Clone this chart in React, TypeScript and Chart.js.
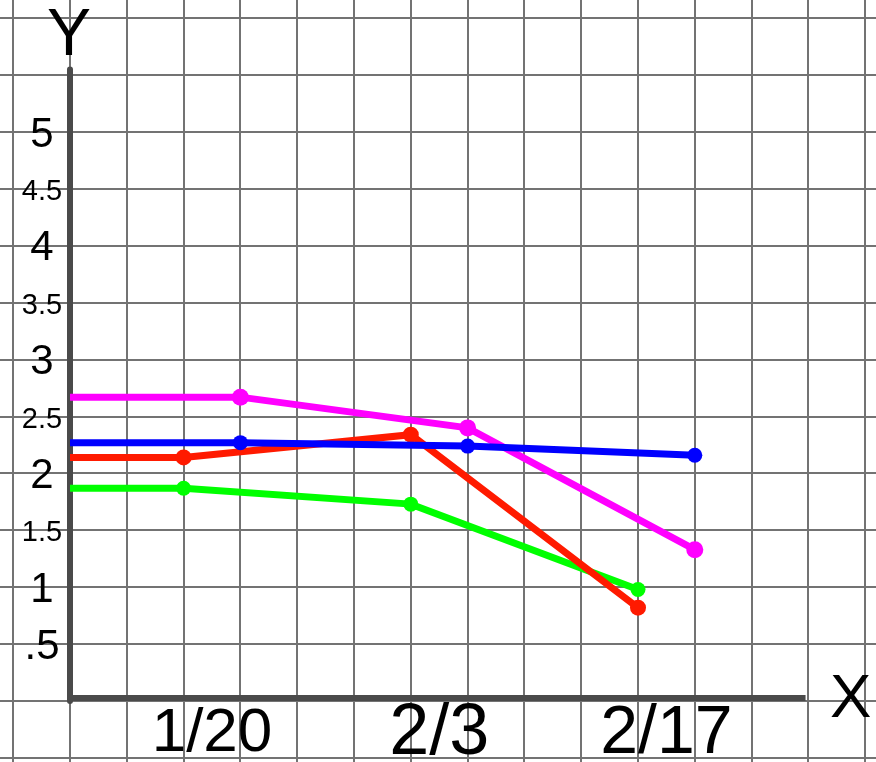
import React, { useEffect, useRef } from "react";
import { Chart, registerables } from "chart.js";

Chart.register(...registerables);

// Categories (dates) and their positions along the grid (one unit = one grid square)
const categories = ["1/20", "2/3", "2/17"];
const categoryPositions = [2.5, 6.5, 10.5];

// Series: x in grid squares from the Y axis, y in chart units
const redX = [0, 2, 6, 10];
const redY = [2.14, 2.14, 2.34, 0.82];
const greenX = [0, 2, 6, 10];
const greenY = [1.87, 1.87, 1.73, 0.98];
const magentaX = [0, 3, 7, 11];
const magentaY = [2.67, 2.67, 2.4, 1.33];
const blueX = [0, 3, 7, 11];
const blueY = [2.27, 2.27, 2.24, 2.16];

// Y tick labels
const yTickValues = [5, 4.5, 4, 3.5, 3, 2.5, 2, 1.5, 1, 0.5];
const yTickLabels = ["5", "4.5", "4", "3.5", "3", "2.5", "2", "1.5", "1", ".5"];

// Grid lines of the paper
const xGridValues = [-1, 0, 1, 2, 3, 4, 5, 6, 7, 8, 9, 10, 11, 12, 13, 14];
const yGridValues = [-0.5, 0, 0.5, 1, 1.5, 2, 2.5, 3, 3.5, 4, 4.5, 5, 5.5, 6];

// Axis extents
const yAxisTop = 5.55;
const xAxisRight = 12.95;

const xLabelFontSizes = [62, 72, 68];

const W = 876;
const H = 762;
const CELL_X = 56.8;
const CELL_Y = 56.9;
const ORIGIN_X = 70;
const ORIGIN_Y = 701;

const FONT = '"Liberation Sans", Arial, Helvetica, sans-serif';

function toPoints(xs: number[], ys: number[]) {
  return xs.map((x, i) => ({ x, y: ys[i] }));
}

function radii(n: number, r: number) {
  return Array.from({ length: n }, (_, i) => (i === 0 ? 0 : r));
}

const paperPlugin = {
  id: "paper",
  beforeDatasetsDraw(chart: any) {
    const { ctx, scales, width, height } = chart;
    const xs = scales.x;
    const ys = scales.y;
    ctx.save();
    // grid paper
    ctx.strokeStyle = "#737373";
    ctx.lineWidth = 2;
    xGridValues.forEach((v) => {
      const px = Math.round(xs.getPixelForValue(v));
      ctx.beginPath();
      ctx.moveTo(px, 0);
      ctx.lineTo(px, height);
      ctx.stroke();
    });
    yGridValues.forEach((v) => {
      const py = Math.round(ys.getPixelForValue(v));
      ctx.beginPath();
      ctx.moveTo(0, py);
      ctx.lineTo(width, py);
      ctx.stroke();
    });
    // axes
    const x0 = xs.getPixelForValue(0);
    const y0 = ys.getPixelForValue(0);
    ctx.strokeStyle = "#4a4a4a";
    ctx.lineWidth = 6;
    ctx.lineCap = "round";
    ctx.beginPath();
    ctx.moveTo(x0, ys.getPixelForValue(yAxisTop));
    ctx.lineTo(x0, y0);
    ctx.stroke();
    ctx.lineCap = "butt";
    ctx.beginPath();
    ctx.moveTo(x0 - 3, y0 - 3);
    ctx.lineTo(xs.getPixelForValue(xAxisRight), y0 - 3);
    ctx.stroke();
    ctx.restore();
  },
  afterDraw(chart: any) {
    const { ctx, scales } = chart;
    const xs = scales.x;
    const ys = scales.y;
    const x0 = xs.getPixelForValue(0);
    const y0 = ys.getPixelForValue(0);
    ctx.save();
    ctx.fillStyle = "#000";
    ctx.textAlign = "center";
    ctx.textBaseline = "middle";
    yTickValues.forEach((v, i) => {
      const label = yTickLabels[i];
      const size = label.length >= 3 ? 29 : 42;
      ctx.font = `${size}px ${FONT}`;
      ctx.fillText(label, x0 - 28, ys.getPixelForValue(v) + 3);
    });
    categories.forEach((c, i) => {
      ctx.font = `${xLabelFontSizes[i]}px ${FONT}`;
      ctx.fillText(c, xs.getPixelForValue(categoryPositions[i]), y0 + 33);
    });
    ctx.font = `66px ${FONT}`;
    ctx.fillText("Y", x0 - 1, ys.getPixelForValue(yAxisTop) - 33);
    ctx.font = `62px ${FONT}`;
    ctx.fillText("X", xs.getPixelForValue(xAxisRight) + 45, y0 - 1);
    ctx.restore();
  },
};

export default function App() {
  const ref = useRef<HTMLCanvasElement | null>(null);

  useEffect(() => {
    if (!ref.current) return;
    const line = (label: string, xs: number[], ys: number[], color: string, r: number) => ({
      type: "line" as const,
      label,
      data: toPoints(xs, ys),
      borderColor: color,
      backgroundColor: color,
      borderWidth: 7,
      pointRadius: radii(xs.length, r),
      pointHoverRadius: radii(xs.length, r),
      pointBorderWidth: 0,
      tension: 0,
      fill: false,
    });
    const chart = new Chart(ref.current, {
      type: "line",
      data: {
        datasets: [
          line("blue", blueX, blueY, "#0000ff", 7.5),
          line("magenta", magentaX, magentaY, "#ff00ff", 8.5),
          line("red", redX, redY, "#ff1a00", 8),
          line("green", greenX, greenY, "#00ff00", 7.5),
        ],
      },
      options: {
        animation: false,
        responsive: true,
        maintainAspectRatio: false,
        layout: { padding: 0, autoPadding: false },
        plugins: { legend: { display: false }, tooltip: { enabled: false } },
        events: [],
        scales: {
          x: {
            type: "linear",
            display: false,
            min: -ORIGIN_X / CELL_X,
            max: (W - ORIGIN_X) / CELL_X,
          },
          y: {
            type: "linear",
            display: false,
            min: -((H - ORIGIN_Y) / CELL_Y) * 0.5,
            max: (ORIGIN_Y / CELL_Y) * 0.5,
          },
        },
      },
      plugins: [paperPlugin],
    });
    return () => chart.destroy();
  }, []);

  return (
    <div style={{ position: "absolute", left: 0, top: 0, width: W, height: H, background: "#fff" }}>
      <canvas ref={ref} />
    </div>
  );
}
